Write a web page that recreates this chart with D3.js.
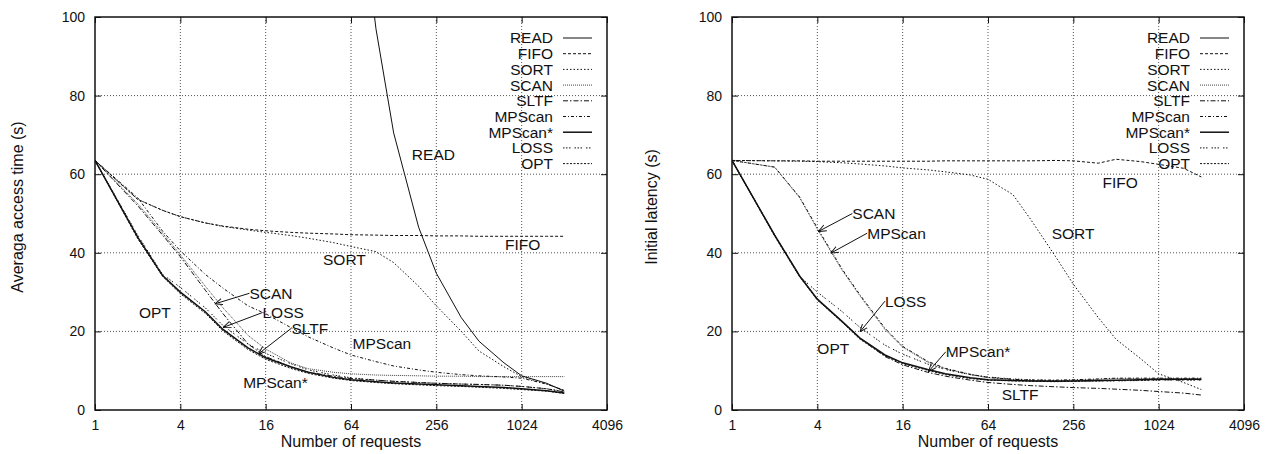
<!DOCTYPE html>
<html>
<head>
<meta charset="utf-8">
<script src="https://cdn.jsdelivr.net/npm/d3@7"></script>
<style>
  body { margin: 0; background: #fff; }
  text { font-family: "Liberation Sans", Arial, Helvetica, sans-serif; fill: #111; }
</style>
</head>
<body>
<div id="wrapper"></div>
<script>
const FONT_SIZE = 15.5;
const TITLE_FONT_SIZE = 16;
const TICK_FONT_SIZE = 14;
const LINE_COLOR = "#111";
const GRID_COLOR = "#555";

// number of requests (x values of every series)
const requests = [1, 2, 3, 4, 6, 8, 12, 16, 24, 32, 48, 64, 96, 128, 192, 256, 384, 512, 768, 1024, 1536, 2048];

const seriesNames = ["READ", "FIFO", "SORT", "SCAN", "SLTF", "MPScan", "MPScan*", "LOSS", "OPT"];

const xTicks = [1, 4, 16, 64, 256, 1024, 4096];
const yTicks = [0, 20, 40, 60, 80, 100];

// left panel: average access time (s)
const accessREAD = [null, null, null, null, null, null, null, null, null, null, 260, 150, 97, 70.5, 46.5, 34.8, 23.5, 17.5, 12, 8.7, 6.8, 4.8];
const accessFIFO = [63.5, 53.6, 50.8, 49.2, 47.6, 46.8, 46.0, 45.6, 45.2, 45.0, 44.8, 44.6, 44.5, 44.4, 44.4, 44.3, 44.3, 44.2, 44.2, 44.2, 44.2, 44.2];
const accessSORT = [63.5, 53.6, 50.8, 49.2, 47.6, 46.7, 45.8, 45.2, 44.4, 43.7, 42.6, 41.6, 40.3, 37.5, 31.5, 26.5, 20, 15, 11, 8.5, 6.6, 5.0];
const accessSCAN = [63.5, 52.5, 45, 39.5, 31.5, 26, 19, 15.5, 12, 10.5, 9.6, 9.2, 8.9, 8.8, 8.7, 8.6, 8.6, 8.5, 8.5, 8.5, 8.5, 8.5];
const accessSLTF = [63.5, 52, 44.5, 39, 30.5, 24.5, 16.8, 13.6, 11, 9.6, 8.6, 8.0, 7.6, 7.3, 7.0, 6.8, 6.6, 6.5, 6.3, 6.0, 5.4, 4.6];
const accessMPScan = [63.5, 54, 45.5, 40.5, 34.5, 31, 26.5, 24.5, 21, 18.6, 15.8, 14, 12.3, 11.2, 10.2, 9.6, 9.0, 8.7, 8.4, 8.1, 6.6, 5.0];
const accessMPScanStar = [63.5, 44, 34.2, 30, 25, 20.5, 15.8, 13.3, 11, 9.6, 8.3, 7.7, 7.2, 6.9, 6.6, 6.4, 6.2, 6.0, 5.7, 5.4, 4.9, 4.3];
const accessLOSS = [63.5, 44.5, 34.5, 31.2, 26, 21.5, 16.8, 14.4, 11.8, 10.2, 8.9, 8.2, 7.6, 7.3, 7.0, 6.8, 6.6, 6.5, 6.3, 6.0, 5.4, 4.7];
const accessOPT = [63.5, 43.6, 34, 29.6, 24.6, 20.1, 15.4, 12.9, 10.6, 9.3, 8.1, 7.5, 7.0, 6.7, 6.4, 6.2, 6.0, 5.8, 5.5, 5.2, 4.8, 4.2];

// right panel: initial latency (s)
const latencyREAD = [];
const latencyFIFO = [63.5, 63.4, 63.4, 63.3, 63.3, 63.3, 63.3, 63.3, 63.3, 63.4, 63.4, 63.4, 63.4, 63.4, 63.5, 63.4, 62.8, 63.8, 63.2, 62.5, 61.5, 59.3];
const latencySORT = [63.5, 63.4, 63.3, 63.2, 62.9, 62.6, 62.1, 61.6, 61.1, 60.6, 59.8, 58.7, 54.8, 48.5, 39, 32, 23.5, 18, 13, 9.2, 7, 5.2];
const latencySCAN = [63.5, 61.8, 54, 46, 35.5, 29, 20.5, 16, 12.2, 10.5, 9, 8.2, 7.7, 7.5, 7.5, 7.6, 7.8, 8, 8, 8, 8, 8];
const latencySLTF = [63.5, 44.5, 34.1, 28.2, 22.5, 18.2, 13.6, 11.5, 9.6, 8.6, 7.6, 7.0, 6.5, 6.2, 5.9, 5.7, 5.5, 5.3, 5.0, 4.7, 4.3, 3.8];
const latencyMPScan = [63.5, 61.8, 54.2, 46.3, 35.8, 29.3, 20.8, 16.2, 12.4, 10.6, 9.1, 8.3, 7.8, 7.6, 7.6, 7.7, 7.9, 8.1, 8.1, 8.1, 8.1, 8.1];
const latencyMPScanStar = [63.5, 44.5, 34.1, 28.2, 22.5, 18.3, 14, 12, 10.3, 9.2, 8.2, 7.7, 7.5, 7.4, 7.3, 7.4, 7.5, 7.6, 7.7, 7.8, 7.8, 7.8];
const latencyLOSS = [63.5, 44.5, 34, 30, 25, 21, 16.5, 14.2, 11.7, 10.3, 9, 8.4, 7.9, 7.7, 7.5, 7.4, 7.4, 7.4, 7.5, 7.6, 7.6, 7.6];
const latencyOPT = [63.5, 44.2, 33.9, 28, 22.3, 18.0, 13.8, 11.8, 10.1, 9.0, 8.0, 7.6, 7.4, 7.3, 7.2, 7.3, 7.4, 7.5, 7.6, 7.7, 7.7, 7.7];

// curve labels: [text, requests, value, arrow tip requests, arrow tip value]
const accessLabels = [
    ["READ", 172, 64.9],
    ["FIFO", 781, 42],
    ["SORT", 40.6, 38.2],
    ["SCAN", 12.3, 29.7, 7.0, 27.0],
    ["LOSS", 15.2, 24.8, 8.0, 21.0],
    ["SLTF", 24.3, 20.8, 14.2, 14.25],
    ["OPT", 2.04, 24.9],
    ["MPScan*", 11.1, 6.95],
    ["MPScan", 65.7, 17.0],
];
const latencyLabels = [
    ["SCAN", 7.06, 50.0, 4.06, 45.4],
    ["MPScan", 9.0, 45.0, 4.97, 39.9],
    ["LOSS", 12.0, 27.7, 8.0, 19.9],
    ["OPT", 4.0, 15.7],
    ["MPScan*", 32.2, 14.8, 24.3, 9.75],
    ["SLTF", 80, 3.8],
    ["SORT", 180, 45.0],
    ["FIFO", 411, 57.8],
];

const lineStyles = {
    "READ": { dash: null, width: 1 },
    "FIFO": { dash: "3,2", width: 1 },
    "SORT": { dash: "1.5,2", width: 1 },
    "SCAN": { dash: "1,1", width: 0.8 },
    "SLTF": { dash: "5,2,1.5,2", width: 1 },
    "MPScan": { dash: "3,2,1,2", width: 1 },
    "MPScan*": { dash: null, width: 1.5 },
    "LOSS": { dash: "1.5,1.5,1.5,1.5,1.5,4", width: 1 },
    "OPT": { dash: "2,1.5", width: 1 },
};

const width = 1270;
const height = 454;

const panels = [
    {
        left: 95,
        title: "Averaga access time (s)",
        titleX: 17,
        series: [accessREAD, accessFIFO, accessSORT, accessSCAN, accessSLTF, accessMPScan, accessMPScanStar, accessLOSS, accessOPT],
        labels: accessLabels,
    },
    {
        left: 732,
        title: "Initial latency (s)",
        titleX: 651,
        series: [latencyREAD, latencyFIFO, latencySORT, latencySCAN, latencySLTF, latencyMPScan, latencyMPScanStar, latencyLOSS, latencyOPT],
        labels: latencyLabels,
    },
];

const plotWidth = 512;
const plotTop = 17;
const plotBottom = 410;

const svg = d3.select("#wrapper")
    .append("svg")
    .attr("width", width)
    .attr("height", height);

const defs = svg.append("defs");
defs.append("marker")
    .attr("id", "arrow")
    .attr("viewBox", "0 0 10 10")
    .attr("refX", 10)
    .attr("refY", 5)
    .attr("markerWidth", 8)
    .attr("markerHeight", 8)
    .attr("markerUnits", "userSpaceOnUse")
    .attr("orient", "auto")
    .append("path")
    .attr("d", "M0,1 L10,5 L0,9")
    .attr("fill", "none")
    .attr("stroke", LINE_COLOR)
    .attr("stroke-width", 1.2);

panels.forEach((panel, i) => {
    const xScale = d3.scaleLog()
        .base(2)
        .domain([1, 4096])
        .range([panel.left, panel.left + plotWidth]);

    const yScale = d3.scaleLinear()
        .domain([0, 100])
        .range([plotBottom, plotTop]);

    const g = svg.append("g");

    defs.append("clipPath")
        .attr("id", "clip" + i)
        .append("rect")
        .attr("x", panel.left)
        .attr("y", plotTop)
        .attr("width", plotWidth)
        .attr("height", plotBottom - plotTop);

    // grid
    g.append("g").selectAll("line")
        .data(xTicks.slice(1, -1))
        .enter().append("line")
        .attr("x1", d => xScale(d))
        .attr("x2", d => xScale(d))
        .attr("y1", plotTop)
        .attr("y2", plotBottom)
        .attr("stroke", GRID_COLOR)
        .attr("stroke-dasharray", "1,2");

    g.append("g").selectAll("line")
        .data(yTicks.slice(1, -1))
        .enter().append("line")
        .attr("x1", panel.left)
        .attr("x2", panel.left + plotWidth)
        .attr("y1", d => yScale(d))
        .attr("y2", d => yScale(d))
        .attr("stroke", GRID_COLOR)
        .attr("stroke-dasharray", "1,2");

    // axes with inward ticks
    const xAxis = d3.axisBottom(xScale)
        .tickValues(xTicks)
        .tickFormat(d3.format("d"))
        .tickSize(-6)
        .tickPadding(10);

    const yAxis = d3.axisLeft(yScale)
        .tickValues(yTicks)
        .tickSize(-6)
        .tickPadding(10);

    const xAxisGroup = g.append("g")
        .attr("transform", `translate(0, ${plotBottom})`)
        .call(xAxis);

    const yAxisGroup = g.append("g")
        .attr("transform", `translate(${panel.left}, 0)`)
        .call(yAxis);

    g.append("g")
        .attr("transform", `translate(${panel.left + plotWidth}, 0)`)
        .call(d3.axisRight(yScale).tickValues(yTicks).tickSize(-6).tickFormat(""));

    g.append("g")
        .attr("transform", `translate(0, ${plotTop})`)
        .call(d3.axisTop(xScale).tickValues(xTicks).tickSize(-6).tickFormat(""));

    g.selectAll(".domain").remove();
    g.selectAll(".tick line").attr("stroke", LINE_COLOR);
    [xAxisGroup, yAxisGroup].forEach(a => a.selectAll("text")
        .style("font-size", TICK_FONT_SIZE + "px")
        .style("font-family", "'Liberation Sans', Arial, sans-serif")
        .attr("fill", "#111"));

    // series
    const line = d3.line()
        .defined(d => d[1] != null)
        .x(d => xScale(d[0]))
        .y(d => yScale(d[1]));

    const linesGroup = g.append("g").attr("clip-path", `url(#clip${i})`);

    panel.series.forEach((values, s) => {
        const style = lineStyles[seriesNames[s]];
        const points = values.map((v, k) => [requests[k], v]);
        if (!points.length) return;
        linesGroup.append("path")
            .attr("d", line(points))
            .attr("fill", "none")
            .attr("stroke", LINE_COLOR)
            .attr("stroke-width", style.width)
            .attr("stroke-dasharray", style.dash);
    });

    // frame
    g.append("rect")
        .attr("x", panel.left)
        .attr("y", plotTop)
        .attr("width", plotWidth)
        .attr("height", plotBottom - plotTop)
        .attr("fill", "none")
        .attr("stroke", LINE_COLOR)
        .attr("stroke-width", 1.5);

    // legend
    const legendRight = panel.left + plotWidth - 54;
    const legend = g.append("g");
    seriesNames.forEach((name, s) => {
        const yPos = 38 + s * 15.7;
        legend.append("text")
            .attr("x", legendRight)
            .attr("y", yPos)
            .attr("dy", "0.35em")
            .attr("text-anchor", "end")
            .style("font-size", FONT_SIZE + "px")
            .text(name);
        const style = lineStyles[name];
        legend.append("line")
            .attr("x1", legendRight + 10)
            .attr("x2", legendRight + 39)
            .attr("y1", yPos)
            .attr("y2", yPos)
            .attr("stroke", LINE_COLOR)
            .attr("stroke-width", style.width)
            .attr("stroke-dasharray", style.dash);
    });

    // curve labels and arrows
    panel.labels.forEach(d => {
        const tx = xScale(d[1]);
        const ty = yScale(d[2]);
        g.append("text")
            .attr("x", tx)
            .attr("y", ty)
            .attr("dy", "0.35em")
            .style("font-size", FONT_SIZE + "px")
            .text(d[0]);
        if (d.length > 3) {
            g.append("line")
                .attr("x1", tx)
                .attr("y1", ty)
                .attr("x2", xScale(d[3]))
                .attr("y2", yScale(d[4]))
                .attr("stroke", LINE_COLOR)
                .attr("stroke-width", 1)
                .attr("marker-end", "url(#arrow)");
        }
    });

    // axis titles
    g.append("text")
        .attr("x", panel.left + plotWidth / 2)
        .attr("y", 447)
        .attr("text-anchor", "middle")
        .style("font-size", TITLE_FONT_SIZE + "px")
        .text("Number of requests");

    g.append("text")
        .attr("transform", `translate(${panel.titleX}, 207) rotate(-90)`)
        .attr("dy", "0.35em")
        .attr("text-anchor", "middle")
        .style("font-size", TITLE_FONT_SIZE + "px")
        .text(panel.title);
});
</script>
</body>
</html>
